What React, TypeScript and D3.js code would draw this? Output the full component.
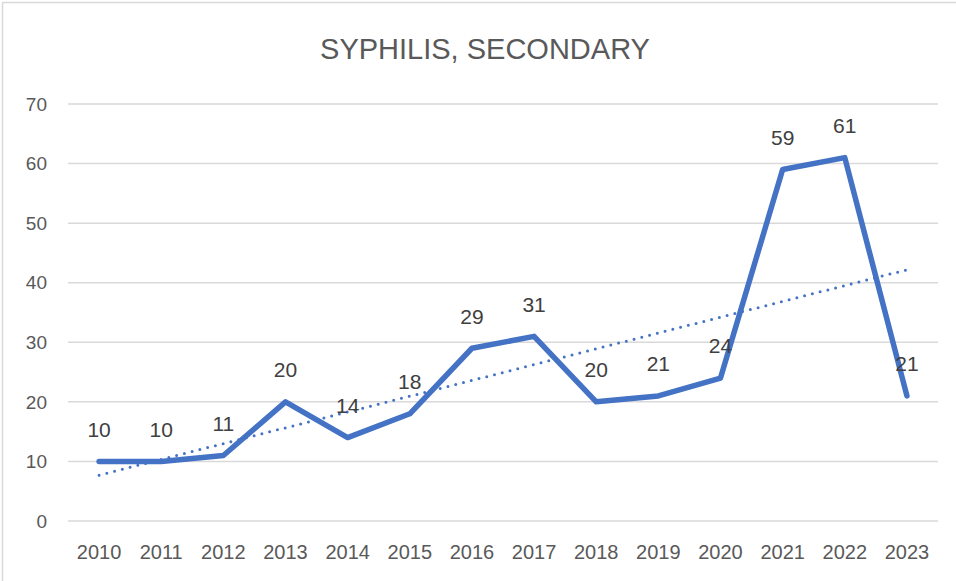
import React, { useEffect, useRef } from 'react'
import * as d3 from 'd3'

const years = ['2010', '2011', '2012', '2013', '2014', '2015', '2016', '2017', '2018', '2019', '2020', '2021', '2022', '2023']
const cases = [10, 10, 11, 20, 14, 18, 29, 31, 20, 21, 24, 59, 61, 21]
const yTicks = [0, 10, 20, 30, 40, 50, 60, 70]
const title = 'SYPHILIS, SECONDARY'

const FONT = "'Liberation Sans', sans-serif"

export default function App() {
    const ref = useRef<SVGSVGElement>(null)

    useEffect(() => {
        const width = 956
        const height = 581
        const margin = { top: 104, right: 18, bottom: 60, left: 68 }

        const svg = d3.select(ref.current)
        svg.selectAll('*').remove()

        svg.append('rect')
            .attr('width', width)
            .attr('height', height)
            .attr('fill', '#fff')

        // chart border (only left and top show in the frame)
        svg.append('path')
            .attr('d', `M2.5,${height} V2.5 H${width}`)
            .attr('fill', 'none')
            .attr('stroke', '#d9d9d9')
            .attr('stroke-width', 1.5)

        svg.append('text')
            .attr('x', 485)
            .attr('y', 59)
            .attr('text-anchor', 'middle')
            .attr('font-family', FONT)
            .attr('font-size', 29)
            .attr('fill', '#595959')
            .text(title)

        const x = d3.scaleBand()
            .domain(years)
            .range([margin.left, width - margin.right])

        const y = d3.scaleLinear()
            .domain([0, 70])
            .range([height - margin.bottom, margin.top])

        const cx = (d: string) => (x(d) || 0) + x.bandwidth() / 2

        // grid
        svg.append('g')
            .selectAll('line')
            .data(yTicks)
            .join('line')
            .attr('x1', margin.left)
            .attr('x2', width - margin.right)
            .attr('y1', d => y(d))
            .attr('y2', d => y(d))
            .attr('stroke', '#d9d9d9')
            .attr('stroke-width', 1.5)

        svg.append('g')
            .selectAll('text')
            .data(yTicks)
            .join('text')
            .attr('x', 47)
            .attr('y', d => y(d))
            .attr('dy', '0.35em')
            .attr('text-anchor', 'end')
            .attr('font-family', FONT)
            .attr('font-size', 19)
            .attr('fill', '#595959')
            .text(d => d)

        svg.append('g')
            .selectAll('text')
            .data(years)
            .join('text')
            .attr('x', d => cx(d))
            .attr('y', height - margin.bottom + 31)
            .attr('dy', '0.35em')
            .attr('text-anchor', 'middle')
            .attr('font-family', FONT)
            .attr('font-size', 20)
            .attr('fill', '#595959')
            .text(d => d)

        // linear trendline
        const xs = cases.map((_, i) => i + 1)
        const mx = d3.mean(xs) as number
        const my = d3.mean(cases) as number
        const slope = d3.sum(xs, (v, i) => (v - mx) * (cases[i] - my)) / d3.sum(xs, v => (v - mx) ** 2)
        const icpt = my - slope * mx
        const trend = [0, years.length - 1].map(i => ({ year: years[i], v: icpt + slope * (i + 1) }))

        svg.append('path')
            .datum(trend)
            .attr('d', d3.line<{ year: string, v: number }>().x(d => cx(d.year)).y(d => y(d.v)))
            .attr('fill', 'none')
            .attr('stroke', '#4472C4')
            .attr('stroke-width', 3)
            .attr('stroke-linecap', 'round')
            .attr('stroke-dasharray', '0 8')

        const series = years.map((yr, i) => ({ year: yr, v: cases[i] }))

        svg.append('path')
            .datum(series)
            .attr('d', d3.line<{ year: string, v: number }>().x(d => cx(d.year)).y(d => y(d.v)))
            .attr('fill', 'none')
            .attr('stroke', '#4472C4')
            .attr('stroke-width', 5.5)
            .attr('stroke-linejoin', 'round')
            .attr('stroke-linecap', 'round')

        svg.append('g')
            .selectAll('text')
            .data(series)
            .join('text')
            .attr('x', d => cx(d.year))
            .attr('y', d => y(d.v) - 32)
            .attr('dy', '0.35em')
            .attr('text-anchor', 'middle')
            .attr('font-family', FONT)
            .attr('font-size', 21)
            .attr('fill', '#404040')
            .text(d => d.v)
    }, [])

    return (
        <svg ref={ref} width={956} height={581}
            style={{ position: 'fixed', left: 0, top: 0, display: 'block' }} />
    )
}
